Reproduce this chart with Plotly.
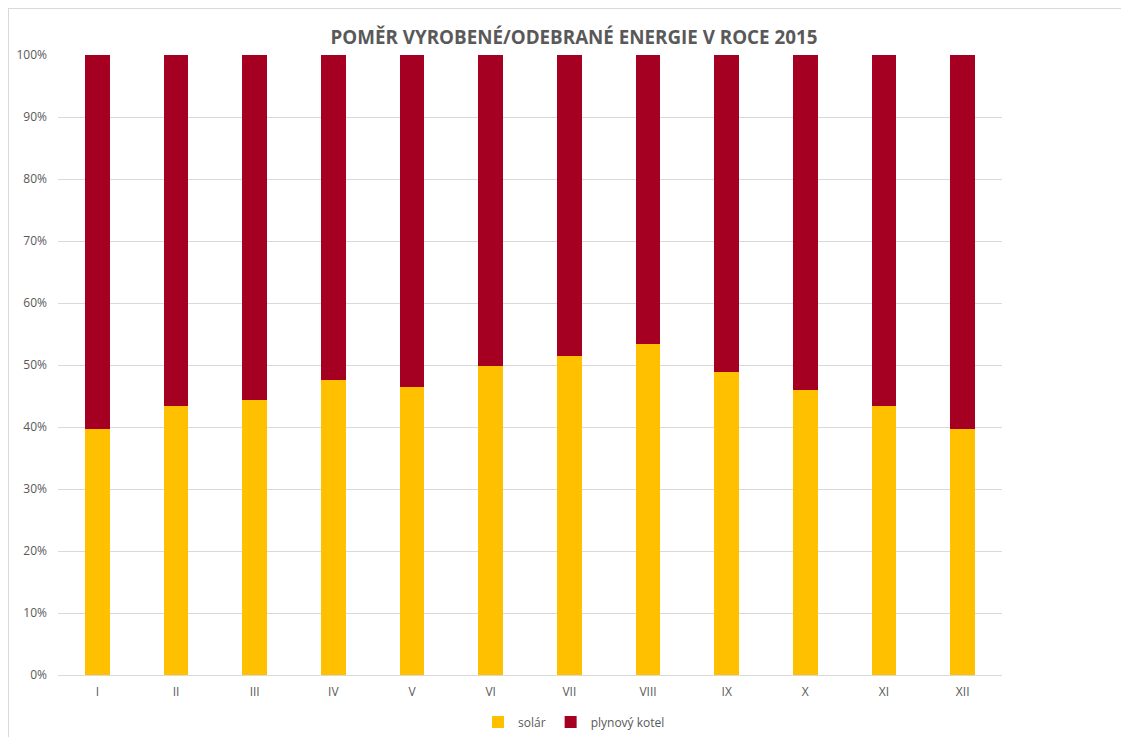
import plotly.graph_objects as go

mesice = ['I', 'II', 'III', 'IV', 'V', 'VI', 'VII', 'VIII', 'IX', 'X', 'XI', 'XII']
solar = [39.7, 43.4, 44.4, 47.6, 46.5, 49.8, 51.4, 53.4, 48.9, 45.9, 43.4, 39.7]
plyn = [round(100 - s, 1) for s in solar]

# page has an 8px body margin, figure is placed at (8, 8)
W, H = 1121, 729
L, R, T, B = 50, 127, 47, 62
pw, ph = W - L - R, H - T - B

fig = go.Figure()
fig.add_trace(go.Bar(x=mesice, y=solar, name='solár', marker_color='#FFC000', marker_line_width=0))
fig.add_trace(go.Bar(x=mesice, y=plyn, name='plynový kotel', marker_color='#A50021', marker_line_width=0))

fig.update_layout(
  width=W, height=H, barmode='stack', bargap=0.69,
  plot_bgcolor='#fff', paper_bgcolor='#fff',
  margin=dict(l=L, r=R, t=T, b=B, autoexpand=False),
  font=dict(family='Open Sans, Liberation Sans, sans-serif', color='#595959', size=12),
  title=dict(text='<b>POMĚR VYROBENÉ/ODEBRANÉ ENERGIE V ROCE 2015</b>', x=566 / W, xanchor='center',
             y=1 - 29 / H, yanchor='middle', font=dict(size=18.8, color='#595959')),
  legend=dict(orientation='h', x=(566 - L) / pw, xanchor='center', y=-(714 - 667) / ph, yanchor='middle',
              font=dict(size=12, color='#595959'), itemwidth=30, traceorder='normal'),
  hovermode=False,
)
fig.update_yaxes(range=[0, 100], dtick=10, ticksuffix='%', showgrid=True, gridcolor='#d9d9d9', gridwidth=1,
                 zeroline=False, showline=False, ticklabelstandoff=10, fixedrange=True)
fig.update_xaxes(showline=True, linecolor='#d9d9d9', linewidth=1, ticks='', ticklabelstandoff=6, fixedrange=True)

# chart frame (left and top edge of the pasted chart)
fig.add_shape(type='line', xref='paper', yref='paper', x0=(0.5 - L) / pw, x1=(0.5 - L) / pw, y0=-B / ph, y1=(H - 0.5 - B) / ph,
              line=dict(color='#d9d9d9', width=1))
fig.add_shape(type='line', xref='paper', yref='paper', x0=-L / pw, x1=(W - L) / pw, y0=(H - 0.5 - B) / ph, y1=(H - 0.5 - B) / ph,
              line=dict(color='#d9d9d9', width=1))

fig.write_html("out.html")
